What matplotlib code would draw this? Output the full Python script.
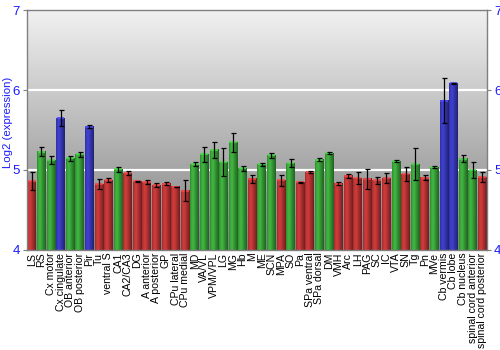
import numpy as np
import matplotlib
matplotlib.use("Agg")
import matplotlib.pyplot as plt
from matplotlib.colors import to_rgb

plt.rcParams['font.family'] = ['Liberation Sans', 'DejaVu Sans']

categories = ["LS", "RS", "Cx motor", "Cx cingulate", "OB anterior", "OB posterior", "Pir",
              "Tu", "ventral S", "CA1", "CA2/CA3", "DG", "A anterior", "A posterior", "GP",
              "CPu lateral", "CPu medial", "MD", "VA/VL", "VPM/VPL", "LG", "MG", "Hb", "M",
              "ME", "SCN", "MPA", "SO", "Pa", "SPa ventral", "SPa dorsal", "DM", "VMH", "Arc",
              "LH", "PAG", "SC", "IC", "VTA", "SN", "Tg", "Pn", "MVe", "Cb vermis", "Cb lobe",
              "Cb nucleus", "spinal cord anterior", "spinal cord posterior"]

values = [4.86, 5.23, 5.125, 5.65, 5.146, 5.196, 5.54,
          4.825, 4.875, 5.008, 4.958, 4.86, 4.85, 4.81, 4.83,
          4.79, 4.74, 5.075, 5.196, 5.254, 5.10, 5.346, 5.02, 4.89,
          5.07, 5.183, 4.87, 5.0875, 4.846, 4.975, 5.13, 5.21, 4.83, 4.93,
          4.90, 4.89, 4.87, 4.90, 5.11, 4.946, 5.07, 4.904, 5.0375, 5.867, 6.083,
          5.14, 5.00, 4.91]

errors = [0.11, 0.055, 0.055, 0.105, 0.03, 0.035, 0.02,
          0.06, 0.03, 0.035, 0.025, 0.005, 0.03, 0.025, 0.02,
          0.003, 0.13, 0.02, 0.095, 0.10, 0.17, 0.12, 0.035, 0.05,
          0.015, 0.035, 0.065, 0.05, 0.005, 0.01, 0.02, 0.015, 0.015, 0.025,
          0.075, 0.125, 0.04, 0.065, 0.012, 0.09, 0.20, 0.035, 0.01, 0.28, 0.005,
          0.045, 0.10, 0.06]

groups = ["r", "g", "g", "b", "g", "g", "b",
          "r", "r", "g", "r", "r", "r", "r", "r",
          "r", "r", "g", "g", "g", "g", "g", "g", "r",
          "g", "g", "r", "g", "r", "r", "g", "g", "r", "r",
          "r", "r", "r", "r", "g", "r", "g", "r", "g", "b", "b",
          "g", "g", "r"]

base_colors = {"r": "#b83434", "g": "#38a038", "b": "#3838b8"}

ymin, ymax = 4, 7

fig = plt.figure(figsize=(5, 3.5), dpi=100)
ax = fig.add_axes([0.054, 0.286, 0.92, 0.685])

n = len(categories)
ax.set_xlim(-0.5, n - 0.5)
ax.set_ylim(ymin, ymax)

# background vertical gradient
grad = np.linspace(0, 1, 256).reshape(-1, 1)
top, bot = 0.945, 0.50
bg = (bot + (top - bot) * grad)
bg_rgb = np.dstack([bg, bg, bg])
ax.imshow(bg_rgb, extent=(-0.5, n - 0.5, ymin, ymax), origin="lower",
          aspect="auto", zorder=0, interpolation="bilinear")

for yv in [5, 6]:
    ax.axhline(yv, color="white", lw=1.6, zorder=1)

# horizontal shading profile for cylinder look
prof_x = np.linspace(0, 1, 64)
profile = np.interp(prof_x, [0, 0.15, 0.35, 0.7, 1.0], [0.85, 1.05, 1.15, 0.85, 0.6])

width = 0.9
for i, (v, g) in enumerate(zip(values, groups)):
    c = np.array(to_rgb(base_colors[g]))
    img = np.clip(c[None, :] * profile[:, None], 0, 1)
    img = img[None, :, :]
    ax.imshow(img, extent=(i - width / 2, i + width / 2, ymin, v), origin="lower",
              aspect="auto", zorder=2, interpolation="bilinear")
    ax.plot([i - width / 2 + 0.05, i + width / 2 - 0.05], [v, v],
            color=tuple(np.clip(c * 1.35, 0, 1)), lw=1.2, zorder=3, solid_capstyle="butt")

x = np.arange(n)
ax.errorbar(x, values, yerr=errors, fmt="none", ecolor="black", elinewidth=0.9,
            capsize=1.8, capthick=0.9, zorder=4)

ax.set_xlim(-0.5, n - 0.5)
ax.set_ylim(ymin, ymax)

ax.set_xticks(x)
ax.set_xticklabels(categories, rotation=90, fontsize=7.6)
ax.tick_params(axis="x", length=0, pad=2)

ax.set_yticks([4, 5, 6, 7])
ax.tick_params(axis="y", labelsize=9.5, labelcolor="#1a1aff", color="#808080",
               length=3, direction="out", right=True, labelright=True, pad=2)

for s in ax.spines.values():
    s.set_color("#808080")
    s.set_linewidth(1.0)

ax.set_ylabel("Log2 (expression)", color="#1a1aff", fontsize=8.2)
ax.yaxis.set_label_coords(-0.031, 0.53)

fig.savefig("out.png", dpi=100)
